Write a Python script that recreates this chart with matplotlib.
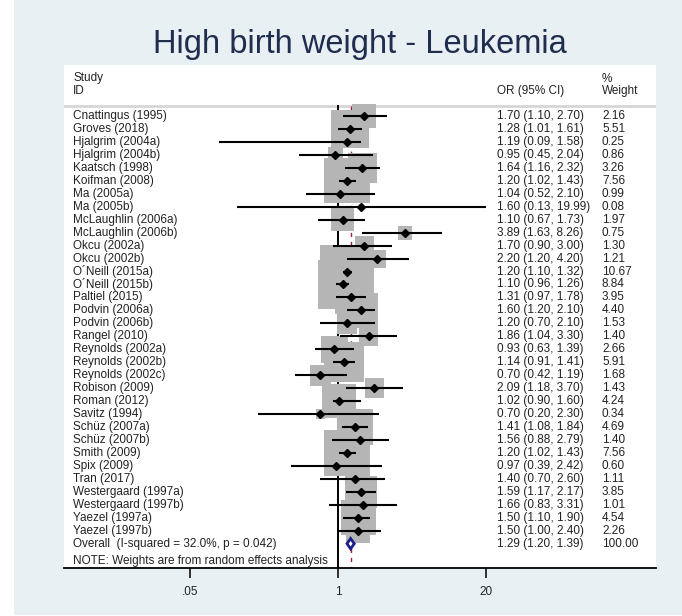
import numpy as np
import matplotlib
matplotlib.use("Agg")
import matplotlib.pyplot as plt
from matplotlib.patches import Rectangle, Polygon
from matplotlib.transforms import blended_transform_factory

plt.rcParams['font.family'] = ['Liberation Sans', 'DejaVu Sans']

# ---- data -------------------------------------------------------------
studies = ["Cnattingus (1995)", "Groves (2018)", "Hjalgrim (2004a)", "Hjalgrim (2004b)",
           "Kaatsch (1998)", "Koifman (2008)", "Ma (2005a)", "Ma (2005b)",
           "McLaughlin (2006a)", "McLaughlin (2006b)", "Okcu (2002a)", "Okcu (2002b)",
           "O\u00b4Neill (2015a)", "O\u00b4Neill (2015b)", "Paltiel (2015)", "Podvin (2006a)",
           "Podvin (2006b)", "Rangel (2010)", "Reynolds (2002a)", "Reynolds (2002b)",
           "Reynolds (2002c)", "Robison (2009)", "Roman (2012)", "Savitz (1994)",
           "Sch\u00fcz (2007a)", "Sch\u00fcz (2007b)", "Smith (2009)", "Spix (2009)",
           "Tran (2017)", "Westergaard (1997a)", "Westergaard (1997b)", "Yaezel (1997a)",
           "Yaezel (1997b)"]
odds_ratio = [1.70, 1.28, 1.19, 0.95, 1.64, 1.20, 1.04, 1.60, 1.10, 3.89, 1.70, 2.20,
              1.20, 1.10, 1.31, 1.60, 1.20, 1.86, 0.93, 1.14, 0.70, 2.09, 1.02, 0.70,
              1.41, 1.56, 1.20, 0.97, 1.40, 1.59, 1.66, 1.50, 1.50]
ci_low = [1.10, 1.01, 0.09, 0.45, 1.16, 1.02, 0.52, 0.13, 0.67, 1.63, 0.90, 1.20,
          1.10, 0.96, 0.97, 1.20, 0.70, 1.04, 0.63, 0.91, 0.42, 1.18, 0.90, 0.20,
          1.08, 0.88, 1.02, 0.39, 0.70, 1.17, 0.83, 1.10, 1.00]
ci_high = [2.70, 1.61, 1.58, 2.04, 2.32, 1.43, 2.10, 19.99, 1.73, 8.26, 3.00, 4.20,
           1.32, 1.26, 1.78, 2.10, 2.10, 3.30, 1.39, 1.41, 1.19, 3.70, 1.60, 2.30,
           1.84, 2.79, 1.43, 2.42, 2.60, 2.17, 3.31, 1.90, 2.40]
weights = [2.16, 5.51, 0.25, 0.86, 3.26, 7.56, 0.99, 0.08, 1.97, 0.75, 1.30, 1.21,
           10.67, 8.84, 3.95, 4.40, 1.53, 1.40, 2.66, 5.91, 1.68, 1.43, 4.24, 0.34,
           4.69, 1.40, 7.56, 0.60, 1.11, 3.85, 1.01, 4.54, 2.26]
overall_label = "Overall  (I-squared = 32.0%, p = 0.042)"
overall_or, overall_low, overall_high, overall_weight = 1.29, 1.20, 1.39, 100.00
x_ticks = [0.05, 1, 20]
x_tick_labels = [".05", "1", "20"]
title = "High birth weight - Leukemia"
note = "NOTE: Weights are from random effects analysis"

# ---- figure -----------------------------------------------------------
W, H = 682, 616
fig = plt.figure(figsize=(W / 100, H / 100), dpi=100)
fig.patch.set_facecolor("white")
bg = "#e9f0f4"
fig.patches.append(Rectangle((14 / W, 1 / H), 1 - 14 / W, 1 - 1 / H,
                             transform=fig.transFigure, facecolor=bg,
                             edgecolor="none", zorder=-10))

left_px, right_px, top_px, bottom_px = 64, 656, 65, 568
ax = fig.add_axes([left_px / W, (H - bottom_px) / H,
                   (right_px - left_px) / W, (bottom_px - top_px) / H])
ax.set_facecolor("white")

# log scale: factor 20 spans 148 px, with 1 placed at x = 338 px
px_per_log = 148 / np.log(20)
x0 = np.exp((left_px - 338) / px_per_log)
x1 = np.exp((right_px - 338) / px_per_log)
ax.set_xscale("log")
ax.set_xlim(x0, x1)

row0_px, row_step = 116.0, 12.96
ax.set_ylim((bottom_px - row0_px) / row_step, (top_px - row0_px) / row_step)
y_bottom = ax.get_ylim()[0]

for side in ["left", "right", "top"]:
    ax.spines[side].set_visible(False)
ax.spines["bottom"].set_linewidth(1.3)
ax.set_yticks([])
ax.set_xticks(x_ticks)
ax.set_xticklabels(x_tick_labels)
ax.xaxis.set_minor_locator(matplotlib.ticker.NullLocator())
ax.tick_params(axis="x", length=7, width=1.3, labelsize=8.5, colors="#222222", pad=6)

n = len(studies)
rows = np.arange(n)
header_y = (106 - row0_px) / row_step

# header rule
ax.axhline(header_y, color="#d6d6d6", lw=2, zorder=1)

# reference lines
ax.plot([1, 1], [header_y, y_bottom], color="black", lw=1.4, zorder=1, clip_on=False)
ax.plot([overall_or, overall_or], [header_y, y_bottom], color="#a3202c", lw=1.0,
        ls=(0, (3, 3.5)), zorder=1)

# weight squares
ax.scatter(odds_ratio, rows, s=np.array(weights) * 140, marker="s",
           color="#b5b5b5", edgecolors="none", zorder=2)

# confidence intervals and point estimates
ax.hlines(rows, ci_low, ci_high, color="black", lw=1.5, zorder=3)
ax.plot(odds_ratio, rows, ls="none", marker="D", ms=4.4, color="black", zorder=4)

# overall diamond
oy = n
dh = 0.4
diamond = Polygon([[overall_low, oy], [overall_or, oy - dh], [overall_high, oy],
                   [overall_or, oy + dh]], closed=True, facecolor="white",
                  edgecolor="#1f1f8c", lw=2.0, zorder=5)
ax.add_patch(diamond)

# text columns
tr = blended_transform_factory(ax.transAxes, ax.transData)
fx = lambda px: (px - left_px) / (right_px - left_px)
txt_kw = dict(transform=tr, fontsize=8.5, color="#222222", va="center")
ax.text(fx(73), (78.5 - row0_px) / row_step, "Study", **txt_kw)
ax.text(fx(73), (90.7 - row0_px) / row_step, "ID", **txt_kw)
ax.text(fx(497), (90.7 - row0_px) / row_step, "OR (95% CI)", **txt_kw)
ax.text(fx(602), (78.5 - row0_px) / row_step, "%", **txt_kw)
ax.text(fx(602), (90.7 - row0_px) / row_step, "Weight", **txt_kw)

for i in range(n):
    ax.text(fx(73), i, studies[i], **txt_kw)
    ax.text(fx(497), i, f"{odds_ratio[i]:.2f} ({ci_low[i]:.2f}, {ci_high[i]:.2f})", **txt_kw)
    ax.text(fx(602), i, f"{weights[i]:.2f}", **txt_kw)

ax.text(fx(73), oy, overall_label, **txt_kw)
ax.text(fx(497), oy, f"{overall_or:.2f} ({overall_low:.2f}, {overall_high:.2f})", **txt_kw)
ax.text(fx(602), oy, f"{overall_weight:.2f}", **txt_kw)
ax.text(fx(73), (561 - row0_px) / row_step, note, **txt_kw)

# title
fig.text(359.5 / W, 1 - 53 / H, title, ha="center", va="baseline",
         fontsize=23.5, color="#1f2d4f")

fig.savefig("out.png", dpi=100, facecolor=fig.get_facecolor())
